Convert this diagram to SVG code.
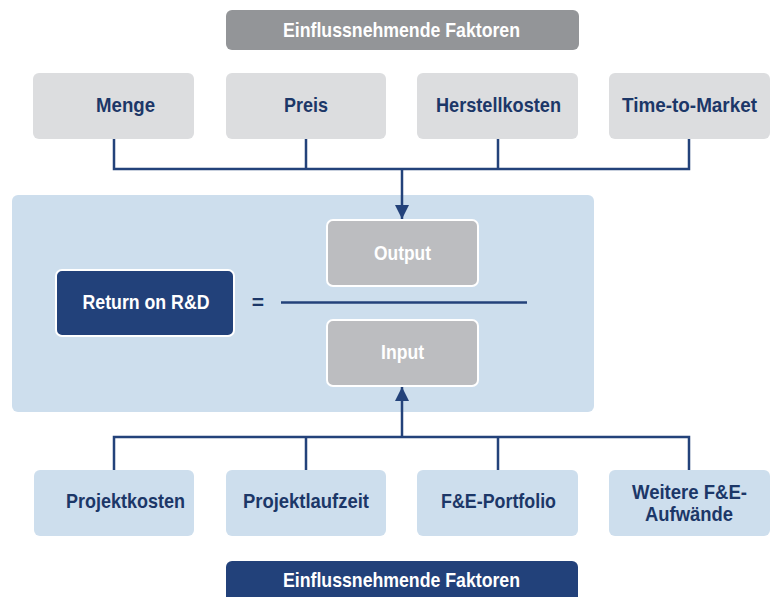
<svg xmlns="http://www.w3.org/2000/svg" width="774" height="597" viewBox="0 0 774 597">
<defs>
<style>
.t{font-family:"Liberation Sans",Arial,sans-serif;font-weight:bold;font-size:21px;text-anchor:middle}
.nv{fill:#1c3768}
.wh{fill:#ffffff}
.gray{fill:#dcdddf}
.lb{fill:#cddeed}
.c{fill:none;stroke:#23427a;stroke-width:2.5}
</style>
<marker id="ah" markerUnits="userSpaceOnUse" markerWidth="14" markerHeight="16" refX="14" refY="7" orient="auto">
<path d="M0,0 L14,7 L0,14 Z" fill="#23427a"/>
</marker>
</defs>
<rect width="774" height="597" fill="#ffffff"/>
<g id="title-top">
<rect x="226" y="10" width="353" height="40" rx="6" fill="#939598"/>
<text class="t wh" x="401.5" y="37" textLength="237" lengthAdjust="spacingAndGlyphs">Einflussnehmende Faktoren</text>
</g>
<g id="panel">
<rect x="12" y="195" width="582" height="217" rx="6" fill="#cddeed"/>
</g>
<g id="menge"><rect class="gray" x="33" y="73" width="161" height="66" rx="6"/><text class="t nv" x="125.5" y="112" textLength="59" lengthAdjust="spacingAndGlyphs">Menge</text></g>
<g id="preis"><rect class="gray" x="226" y="73" width="160" height="66" rx="6"/><text class="t nv" x="306" y="112" textLength="44" lengthAdjust="spacingAndGlyphs">Preis</text></g>
<g id="herstellkosten"><rect class="gray" x="417" y="73" width="161" height="66" rx="6"/><text class="t nv" x="498.5" y="112" textLength="125" lengthAdjust="spacingAndGlyphs">Herstellkosten</text></g>
<g id="time-to-market"><rect class="gray" x="609" y="73" width="161" height="66" rx="6"/><text class="t nv" x="689.5" y="112" textLength="135" lengthAdjust="spacingAndGlyphs">Time-to-Market</text></g>
<g id="return"><rect x="56" y="270" width="178" height="66" rx="6" fill="#22417a" stroke="#ffffff" stroke-width="2"/><text class="t wh" x="146" y="309" textLength="127" lengthAdjust="spacingAndGlyphs">Return on R&amp;D</text></g>
<g id="equals"><text class="t nv" x="258" y="309" font-size="15">=</text></g>
<g id="fraction"><line x1="281" y1="302.5" x2="527" y2="302.5" stroke="#23427a" stroke-width="2.5"/></g>
<g id="output"><rect x="327" y="220" width="151" height="66" rx="6" fill="#bcbdc0" stroke="#ffffff" stroke-width="2"/><text class="t wh" x="402.5" y="260" textLength="57" lengthAdjust="spacingAndGlyphs">Output</text></g>
<g id="input"><rect x="327" y="320" width="151" height="66" rx="6" fill="#bcbdc0" stroke="#ffffff" stroke-width="2"/><text class="t wh" x="402.5" y="359" textLength="43" lengthAdjust="spacingAndGlyphs">Input</text></g>
<g id="projektkosten"><rect class="lb" x="34" y="470" width="160" height="66" rx="6"/><text class="t nv" x="125.5" y="508" textLength="119" lengthAdjust="spacingAndGlyphs">Projektkosten</text></g>
<g id="projektlaufzeit"><rect class="lb" x="226" y="470" width="160" height="66" rx="6"/><text class="t nv" x="306" y="508" textLength="126" lengthAdjust="spacingAndGlyphs">Projektlaufzeit</text></g>
<g id="portfolio"><rect class="lb" x="417" y="470" width="161" height="66" rx="6"/><text class="t nv" x="498.5" y="508" textLength="115" lengthAdjust="spacingAndGlyphs">F&amp;E-Portfolio</text></g>
<g id="weitere"><rect class="lb" x="609" y="470" width="161" height="66" rx="6"/><text class="t nv" x="689.5" y="499" textLength="115" lengthAdjust="spacingAndGlyphs">Weitere F&amp;E-</text><text class="t nv" x="689" y="521" textLength="88" lengthAdjust="spacingAndGlyphs">Aufwände</text></g>
<g id="title-bottom">
<rect x="226" y="561" width="352" height="50" rx="6" fill="#22417a"/>
<text class="t wh" x="401.5" y="587" textLength="237" lengthAdjust="spacingAndGlyphs">Einflussnehmende Faktoren</text>
</g>
<g id="connectors">
<path class="c" d="M114,139 V169 H689 V139 M306,139 V169 M498,139 V169"/>
<path class="c" d="M402,169 V219" marker-end="url(#ah)"/>
<path class="c" d="M114,470 V437 H689 V470 M306,470 V437 M498,470 V437"/>
<path class="c" d="M402,437 V387" marker-end="url(#ah)"/>
</g>
</svg>
